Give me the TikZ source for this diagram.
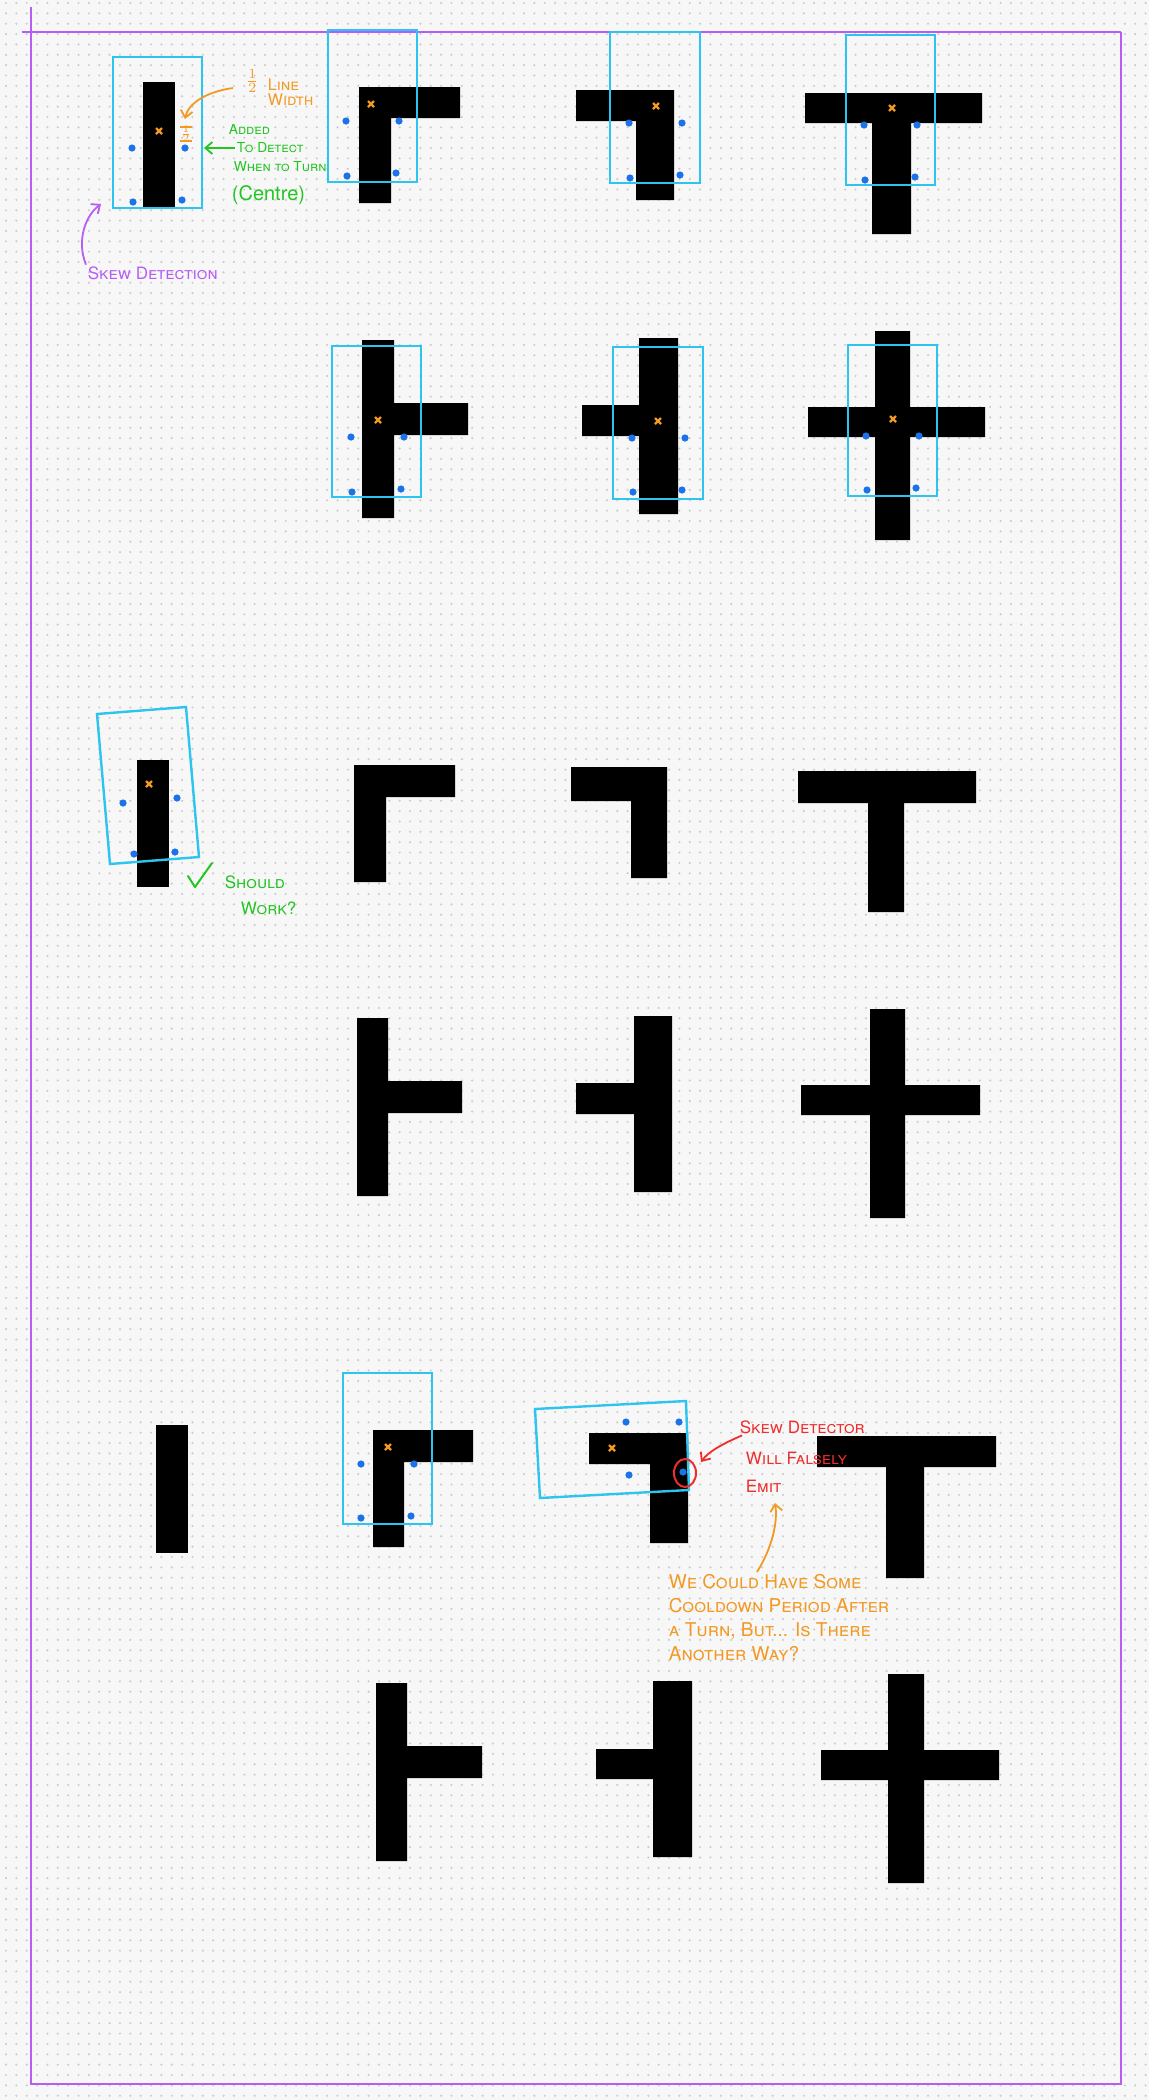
\documentclass[tikz,border=0pt]{standalone}
\usepackage{amsmath}
\usepackage{fontspec}
\setmainfont{TeX Gyre Heros}
\usetikzlibrary{arrows.meta}

\begin{document}
\begin{tikzpicture}[x=0.5pt,y=0.5pt,yscale=-1,xscale=1,
    bar/.style={fill=black},
    sensor/.style={draw={rgb, 255:red, 46; green, 196; blue, 240}, line width=1.2pt},
    probe/.style={fill={rgb, 255:red, 26; green, 115; blue, 232}},
    frame/.style={draw={rgb, 255:red, 181; green, 93; blue, 245}, line width=1.3pt},
    griddot/.style={draw={rgb, 255:red, 205; green, 205; blue, 205}, line width=1.2pt, line cap=round, dash pattern=on 0pt off 5.18pt},
    orangeink/.style={color={rgb, 255:red, 242; green, 153; blue, 35}},
    greenink/.style={color={rgb, 255:red, 34; green, 197; blue, 34}},
    purpleink/.style={color={rgb, 255:red, 181; green, 93; blue, 245}},
    redink/.style={color={rgb, 255:red, 238; green, 45; blue, 45}},
    note/.style={inner sep=0.75pt, anchor=west, font=\fontsize{8.5}{10}\selectfont\scshape},
    smallnote/.style={note, font=\fontsize{6.9}{8}\selectfont\scshape},
    inkarrow/.style={line width=0.9pt, -{Straight Barb[length=3.5pt,width=6pt]}},
    centremark/.pic={\draw[orangeink, line width=1.1pt] (-3,-3) -- (3,3) (-3,3) -- (3,-3);}
]
        \useasboundingbox (0,0) rectangle (1149,2100);
        %Shape: Rectangle [background]
        \fill[fill={rgb, 255:red, 247; green, 247; blue, 247}] (0,0) rectangle (1149,2100);
        %Dot grid
        \foreach \gx in {0,...,110} \draw[griddot] ({6+\gx*10.36},3) -- ({6+\gx*10.36},2100);

        %Straight Lines [page frame]
        \draw[frame] (31,7) -- (31,2084) -- (1121,2084) -- (1121,32);
        \draw[frame] (22,32) -- (1121,32);

        %%% Row 1
        %Shape: I bar
        \fill[bar] (143,82) rectangle (175,209);
        \draw[sensor] (113,57) rectangle (202,208);
        %Shape: corner right-down
        \fill[bar] (359,87) rectangle (391,203) (391,87) rectangle (460,118);
        \draw[sensor] (328,30) rectangle (417,182);
        %Shape: corner left-down
        \fill[bar] (576,90) rectangle (674,121) (636,121) rectangle (674,200);
        \draw[sensor] (610,32) rectangle (700,183);
        %Shape: T
        \fill[bar] (805,93) rectangle (982,123) (872,123) rectangle (911,234);
        \draw[sensor] (846,35) rectangle (935,185);

        %%% Row 2
        %Shape: tee right
        \fill[bar] (362,340) rectangle (394,518) (394,403) rectangle (468,435);
        \draw[sensor] (332,346) rectangle (421,497);
        %Shape: tee left
        \fill[bar] (639,338) rectangle (678,514) (582,405) rectangle (639,436);
        \draw[sensor] (613,347) rectangle (703,499);
        %Shape: cross
        \fill[bar] (875,331) rectangle (910,540) (808,407) rectangle (985,437);
        \draw[sensor] (848,345) rectangle (937,496);

        %%% Row 3
        %Shape: I bar, skewed sensor
        \fill[bar] (137,760) rectangle (169,887);
        \draw[sensor] (97,714) -- (186,707) -- (199,857) -- (110,864) -- cycle;
        \fill[bar] (354,765) rectangle (386,882) (386,765) rectangle (455,797);
        \fill[bar] (571,767) rectangle (667,801) (631,801) rectangle (667,878);
        \fill[bar] (798,771) rectangle (976,803) (868,803) rectangle (904,912);

        %%% Row 4
        \fill[bar] (357,1018) rectangle (388,1196) (388,1081) rectangle (462,1113);
        \fill[bar] (634,1016) rectangle (672,1192) (576,1083) rectangle (634,1114);
        \fill[bar] (870,1009) rectangle (905,1218) (801,1085) rectangle (980,1115);

        %%% Row 5
        \fill[bar] (156,1425) rectangle (188,1553);
        \fill[bar] (373,1430) rectangle (404,1547) (404,1430) rectangle (473,1462);
        \draw[sensor] (343,1373) rectangle (432,1524);
        \fill[bar] (589,1433) rectangle (688,1464) (650,1464) rectangle (688,1543);
        \draw[sensor] (535,1409) -- (686,1401) -- (689,1490) -- (540,1498) -- cycle;
        \fill[bar] (817,1436) rectangle (996,1467) (886,1467) rectangle (924,1578);

        %%% Row 6
        \fill[bar] (376,1683) rectangle (407,1861) (407,1746) rectangle (482,1778);
        \fill[bar] (653,1681) rectangle (692,1857) (596,1749) rectangle (653,1779);
        \fill[bar] (888,1674) rectangle (924,1883) (821,1750) rectangle (999,1780);

        %Probe points
        \foreach \p in {(132,148),(185,148),(133,202),(182,200),
                        (346,121),(399,121),(347,176),(396,173),
                        (629,123),(682,123),(630,178),(680,175),
                        (864,125),(917,125),(865,180),(915,177),
                        (351,437),(404,437),(352,492),(401,489),
                        (632,438),(685,438),(633,492),(682,490),
                        (866,436),(919,436),(867,490),(916,488),
                        (123,803),(177,798),(134,854),(175,852),
                        (361,1464),(414,1464),(361,1518),(411,1516),
                        (626,1422),(679,1422),(629,1475),(683,1472)}
            \fill[probe] \p circle (1.8pt);

        %Centre marks
        \pic at (159,131) {centremark};
        \pic at (371,104) {centremark};
        \pic at (656,106) {centremark};
        \pic at (892,108) {centremark};
        \pic at (378,420) {centremark};
        \pic at (658,421) {centremark};
        \pic at (893,419) {centremark};
        \pic at (149,784) {centremark};
        \pic at (388,1447) {centremark};
        \pic at (612,1448) {centremark};

        %Half width marker
        \draw[orangeink, line width=0.9pt] (180,127) -- (192,127) (180,141) -- (192,141);
        \node[orangeink, inner sep=0pt, font=\fontsize{5}{5}\selectfont] (halfmark) at (186,134) {$\frac{1}{2}$};

        %Red circle on false probe
        \draw[redink, line width=1pt] (685,1473) ellipse (11 and 14);

        %Check mark
        \draw[greenink, line width=1pt, line cap=round, line join=round] (188,876) -- (195,887) -- (212,863);

        % Arrow ends
        \coordinate (halftip) at (185,119);
        \coordinate (boxedge) at (204,148);
        \coordinate (skewtip) at (101,204);
        \coordinate (falsetip) at (701,1462);
        \coordinate (emittip) at (775,1503);

        % Text Node
        \node[note, orangeink, font=\fontsize{10}{12}\selectfont] (lwhalf) at (244,81) {$\frac{1}{2}$};
        % Text Node
        \node[note, orangeink, anchor=north west, align=left, font=\fontsize{8}{7.5}\selectfont\scshape] (lwtext) at (266,77) {Line\\Width};
        % Text Node
        \node[smallnote, greenink] (added) at (227,129) {Added};
        % Text Node
        \node[smallnote, greenink] (detect) at (235,148) {To Detect};
        % Text Node
        \node[smallnote, greenink] (turn) at (232,167) {When to Turn};
        % Text Node
        \node[note, greenink, font=\fontsize{10}{12}\selectfont] (centre) at (230,195) {(Centre)};
        % Text Node
        \node[note, purpleink] (skewlbl) at (86,273) {Skew Detection};
        % Text Node
        \node[note, greenink] (should) at (223,882) {Should};
        % Text Node
        \node[note, greenink] (work) at (239,908) {Work?};
        % Text Node
        \node[note, redink] (skewdet) at (738,1427) {Skew Detector};
        % Text Node
        \node[note, redink] (falsely) at (744,1458) {Will Falsely};
        % Text Node
        \node[note, redink] (emit) at (744,1486) {Emit};
        % Text Node
        \node[note, orangeink, anchor=north west, align=left, font=\fontsize{9.5}{12}\selectfont\scshape] (cooldown) at (667,1572) {We Could Have Some\\Cooldown Period After\\a Turn, But... Is There\\Another Way?};

        %Curve Lines
        \draw[orangeink, inkarrow] ([xshift=-5.5pt,yshift=3.5pt]lwhalf.west) .. controls (205,92) and (188,104) .. (halftip);
        %Straight Lines
        \draw[greenink, inkarrow] (detect.west) -- (boxedge);
        %Curve Lines
        \draw[purpleink, inkarrow] (skewlbl.north west) .. controls (76,240) and (86,215) .. (skewtip);
        %Curve Lines
        \draw[redink, inkarrow] ([xshift=2pt]skewdet.south west) .. controls (722,1444) and (708,1452) .. (falsetip);
        %Curve Lines
        \draw[orangeink, inkarrow] ([xshift=45pt]cooldown.north west) .. controls (772,1548) and (778,1522) .. (emittip);
\end{tikzpicture}
\end{document}
